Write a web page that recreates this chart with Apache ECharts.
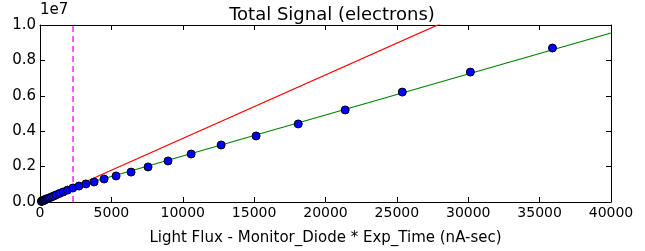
<!DOCTYPE html>
<html>
<head>
<meta charset="utf-8">
<script src="https://cdn.jsdelivr.net/npm/echarts@6/dist/echarts.min.js"></script>
<style>
  html, body { margin: 0; padding: 0; background: #fff; }
  #chart { width: 645px; height: 251px; }
</style>
</head>
<body>
<div id="chart"></div>
<script>
// light flux (nA-sec) of each exposure
var fluxX = [100, 120, 140, 170, 200, 240, 285, 340, 400, 480, 570, 680, 810, 960, 1140, 1360, 1620, 1930, 2300,
  2730, 3220, 3790, 4490, 5330, 6380, 7570, 8970, 10590, 12690, 15140, 18090, 21380, 25380, 30150, 35900];
// total signal (electrons)
var signalY = [0.036e6, 0.043e6, 0.050e6, 0.061e6, 0.072e6, 0.086e6, 0.102e6, 0.122e6, 0.143e6, 0.172e6, 0.204e6,
  0.243e6, 0.289e6, 0.342e6, 0.404e6, 0.480e6, 0.568e6, 0.672e6, 0.790e6, 0.90e6, 1.02e6, 1.13e6, 1.30e6, 1.47e6,
  1.69e6, 1.98e6, 2.32e6, 2.71e6, 3.22e6, 3.73e6, 4.41e6, 5.20e6, 6.21e6, 7.34e6, 8.70e6];
// linear fit of the whole range
var fitX = [0, 40000];
var fitY = [0.28e6, 9.55e6];
// line through origin from low-flux points
var lowFitX = [0, 40000];
var lowFitY = [0, 14.36e6];
// flux cut
var cutX = 2314;

var font = "DejaVu Sans";
var myChart = echarts.init(document.getElementById("chart"));

function pairs(xs, ys) {
  return xs.map(function (x, i) { return [x, ys[i]]; });
}

var tickStyle = { show: true, inside: true, length: 5, lineStyle: { color: "#000", width: 1 } };
var lineStyle = { show: true, onZero: false, lineStyle: { color: "#000", width: 1 } };

myChart.setOption({
  animation: false,
  title: {
    text: "Total Signal (electrons)",
    left: 327,
    textAlign: "center",
    top: 1,
    textStyle: { fontFamily: font, fontSize: 18, fontWeight: "normal", color: "#000" }
  },
  grid: { left: 40, right: 34, top: 25, bottom: 49 },
  xAxis: [
    {
      type: "value",
      min: 0,
      max: 40000,
      interval: 5000,
      name: "Light Flux - Monitor_Diode * Exp_Time (nA-sec)",
      nameLocation: "middle",
      nameGap: 29,
      nameTextStyle: { fontFamily: font, fontSize: 15, color: "#000" },
      axisLine: lineStyle,
      axisTick: tickStyle,
      splitLine: { show: false },
      axisLabel: {
        fontFamily: font, fontSize: 14, color: "#000", margin: 4, showMaxLabel: true,
        formatter: function (v) { return String(v); }
      }
    },
    {
      type: "value",
      position: "top",
      min: 0,
      max: 40000,
      interval: 5000,
      axisLine: lineStyle,
      axisTick: tickStyle,
      axisLabel: { show: false },
      splitLine: { show: false }
    }
  ],
  yAxis: [
    {
      type: "value",
      min: 0,
      max: 1e7,
      interval: 0.2e7,
      name: "1e7",
      nameLocation: "end",
      nameGap: 3,
      nameTextStyle: { fontFamily: font, fontSize: 15, color: "#000", align: "left" },
      axisLine: lineStyle,
      axisTick: tickStyle,
      splitLine: { show: false },
      axisLabel: {
        fontFamily: font, fontSize: 15, color: "#000", margin: 4,
        formatter: function (v) { return (v / 1e7).toFixed(1); }
      }
    },
    {
      type: "value",
      position: "right",
      min: 0,
      max: 1e7,
      interval: 0.2e7,
      axisLine: lineStyle,
      axisTick: tickStyle,
      axisLabel: { show: false },
      splitLine: { show: false }
    }
  ],
  series: [
    {
      type: "line",
      data: pairs(lowFitX, lowFitY),
      symbol: "none",
      clip: true,
      lineStyle: { color: "#ff0000", width: 1.2 },
      z: 3
    },
    {
      type: "line",
      data: pairs(fitX, fitY),
      symbol: "none",
      clip: true,
      lineStyle: { color: "#008000", width: 1.2 },
      z: 3
    },
    {
      type: "line",
      data: [[cutX, 0], [cutX, 1e7]],
      symbol: "none",
      lineStyle: { color: "#ff00ff", width: 1.3, type: [6, 4] },
      z: 3
    },
    {
      type: "scatter",
      data: pairs(fluxX, signalY),
      symbol: "circle",
      symbolSize: 8,
      itemStyle: { color: "#0000ff", borderColor: "#000", borderWidth: 1, opacity: 1 },
      z: 4
    }
  ]
});
</script>
</body>
</html>
